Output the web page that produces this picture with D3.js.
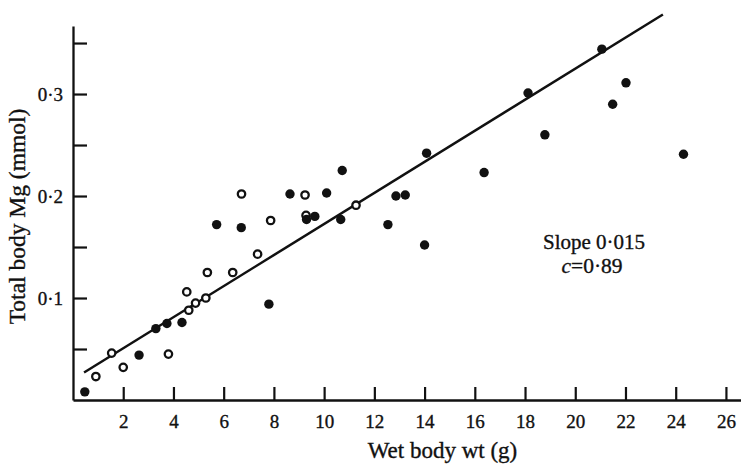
<!DOCTYPE html>
<html>
<head>
<meta charset="utf-8">
<script src="https://cdn.jsdelivr.net/npm/d3@7"></script>
<style>
  html, body { margin: 0; padding: 0; background: #fff; }
  svg { display: block; }
  text { font-family: "Liberation Serif", "Times New Roman", serif; fill: #111; stroke: #111; stroke-width: 0.35px; }
</style>
</head>
<body>
<script>
// ---- data ----
// filled circles: wet body wt (g), total body Mg (mmol)
const filledX = [0.47, 2.63, 3.30, 3.74, 4.34, 5.72, 6.70, 7.80, 8.64, 9.30, 9.63, 10.10, 10.66, 10.72,
                 12.54, 12.86, 13.23, 14.08, 14.00, 16.37, 18.12, 18.79, 21.06, 21.49, 22.02, 24.31];
const filledY = [0.008, 0.044, 0.070, 0.075, 0.076, 0.172, 0.169, 0.094, 0.202, 0.177, 0.180, 0.203, 0.177, 0.225,
                 0.172, 0.200, 0.201, 0.242, 0.152, 0.223, 0.301, 0.260, 0.344, 0.290, 0.311, 0.241];
// open circles
const openX = [0.91, 1.54, 2.00, 3.80, 4.53, 4.61, 4.88, 5.29, 5.35, 6.36, 6.71, 7.35, 7.87, 9.24, 9.28, 11.27];
const openY = [0.023, 0.046, 0.032, 0.045, 0.106, 0.088, 0.095, 0.100, 0.125, 0.125, 0.202, 0.143, 0.176, 0.201, 0.181, 0.191];
// fitted regression line end points
const fitX = [0.44, 23.49];
const fitY = [0.027, 0.378];
// ticks
const xTicks = [2, 4, 6, 8, 10, 12, 14, 16, 18, 20, 22, 24, 26];
const yTicks = [0.05, 0.10, 0.15, 0.20, 0.25, 0.30, 0.35];
const yTickLabels = ["", "0·1", "", "0·2", "", "0·3", ""];
const xTitle = "Wet body wt (g)";
const yTitle = "Total body Mg (mmol)";
const annoLine1 = "Slope 0·015";
const annoC = "c";
const annoRest = "=0·89";

// ---- drawing ----
const W = 741, H = 466;
const svg = d3.select("body").append("svg").attr("width", W).attr("height", H);

const x = d3.scaleLinear().domain([0, 26.6]).range([73, 741]);
const y = d3.scaleLinear().domain([0, 0.3667]).range([400, 26]);

// x axis
const xAxis = d3.axisBottom(x).tickValues(xTicks).tickSizeInner(-13).tickSizeOuter(0).tickPadding(14.5)
  .tickFormat(d3.format("d"));
const gx = svg.append("g").attr("transform", `translate(0,${y(0)})`).call(xAxis);
gx.select(".domain").attr("stroke", "#111").attr("stroke-width", 2.3);
gx.selectAll(".tick line").attr("stroke", "#111").attr("stroke-width", 2.2);
gx.selectAll(".tick text").attr("font-size", 19).attr("font-family", "Liberation Serif").attr("fill", "#111");

// y axis
const yAxis = d3.axisLeft(y).tickValues(yTicks).tickSizeInner(-14).tickSizeOuter(0).tickPadding(10)
  .tickFormat((d, i) => yTickLabels[i]);
const gy = svg.append("g").attr("transform", `translate(${x(0)},0)`).call(yAxis);
gy.select(".domain").attr("stroke", "#111").attr("stroke-width", 2.3);
gy.selectAll(".tick line").attr("stroke", "#111").attr("stroke-width", 2.2);
gy.selectAll(".tick text").attr("font-size", 19).attr("font-family", "Liberation Serif").attr("fill", "#111");

// regression line
const fit = fitX.map((v, i) => [v, fitY[i]]);
svg.append("path").datum(fit)
  .attr("d", d3.line().x(d => x(d[0])).y(d => y(d[1])))
  .attr("fill", "none").attr("stroke", "#111").attr("stroke-width", 2.5);

// open circles
const openPts = openX.map((v, i) => [v, openY[i]]);
svg.append("g").selectAll("circle").data(openPts).join("circle")
  .attr("cx", d => x(d[0])).attr("cy", d => y(d[1])).attr("r", 3.7)
  .attr("fill", "#fff").attr("stroke", "#111").attr("stroke-width", 2.3);

// filled circles
const filledPts = filledX.map((v, i) => [v, filledY[i]]);
svg.append("g").selectAll("circle").data(filledPts).join("circle")
  .attr("cx", d => x(d[0])).attr("cy", d => y(d[1])).attr("r", 4.7)
  .attr("fill", "#111");

// axis titles
svg.append("text").attr("x", 442.5).attr("y", 458).attr("text-anchor", "middle")
  .attr("font-size", 23).text(xTitle);
svg.append("text").attr("transform", "translate(25,216.5) rotate(-90)").attr("text-anchor", "middle")
  .attr("font-size", 23.5).text(yTitle);

// annotation
svg.append("text").attr("x", 594).attr("y", 248.5).attr("text-anchor", "middle")
  .attr("font-size", 21).text(annoLine1);
const t2 = svg.append("text").attr("x", 592).attr("y", 273).attr("text-anchor", "middle").attr("font-size", 21.5);
t2.append("tspan").attr("font-style", "italic").text(annoC);
t2.append("tspan").text(annoRest);
</script>
</body>
</html>
